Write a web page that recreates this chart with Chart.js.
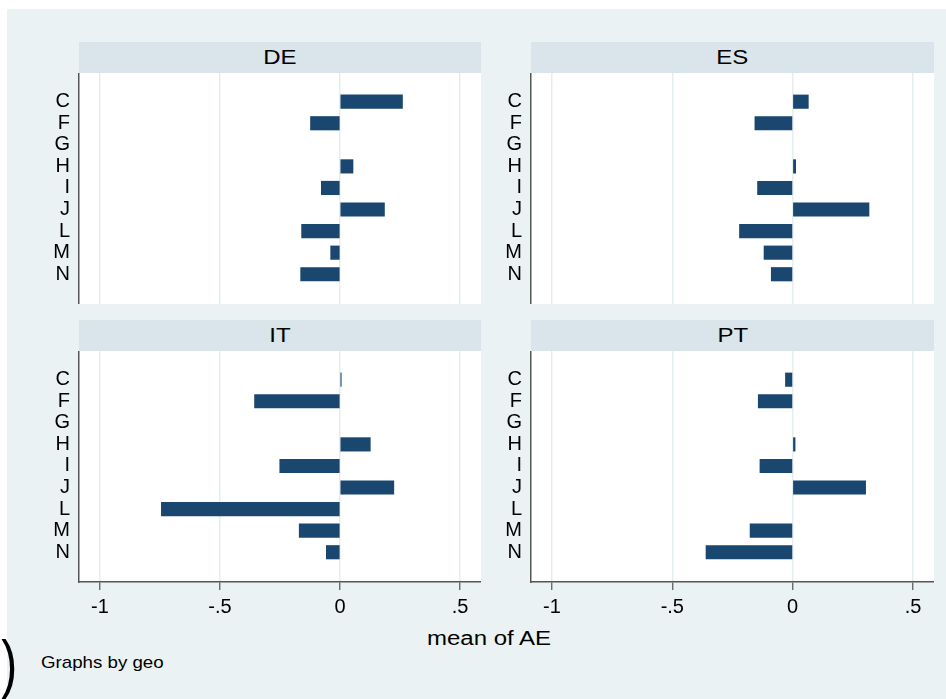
<!DOCTYPE html>
<html>
<head>
<meta charset="utf-8">
<script src="https://cdn.jsdelivr.net/npm/chart.js@4"></script>
<style>
  body { margin: 0; width: 946px; height: 699px; background: #fff; position: relative; overflow: hidden; font-family: "Liberation Sans", Arial, sans-serif; }
  #bg { position: absolute; left: 7px; top: 9px; right: 0; bottom: 0; background: #eaf2f3; }
  .strip { position: absolute; height: 31px; line-height: 31px; background: #d9e5eb; text-align: center; font-size: 20px; color: #000; }
  .strip span { display: inline-block; transform: scaleX(1.2); }
  canvas { position: absolute; }
  #xlab { position: absolute; left: 389px; top: 626px; width: 200px; text-align: center; font-size: 20px; line-height: 24px; transform: scaleX(1.2); }
  #note { position: absolute; left: 41px; top: 653px; font-size: 17px; line-height: 20px; transform: scaleX(1.1); transform-origin: left; }
  #paren { position: absolute; left: -4px; top: 632px; font-size: 64px; line-height: 64px; transform: scaleX(0.75); transform-origin: right; }
</style>
</head>
<body>
<div id="bg"></div>
<div id="paren">)</div>

<div class="strip" style="left:79px;top:42px;width:402px"><span>DE</span></div>
<div class="strip" style="left:531px;top:42px;width:403px"><span>ES</span></div>
<div class="strip" style="left:79px;top:320px;width:402px"><span>IT</span></div>
<div class="strip" style="left:531px;top:320px;width:403px"><span>PT</span></div>

<canvas id="de" width="461" height="231" style="left:20px;top:73px"></canvas>
<canvas id="es" width="462" height="231" style="left:472px;top:73px"></canvas>
<canvas id="it" width="461" height="275" style="left:20px;top:351px"></canvas>
<canvas id="pt" width="462" height="275" style="left:472px;top:351px"></canvas>

<div id="xlab">mean of AE</div>
<div id="note">Graphs by geo</div>

<script>
// sectors, top to bottom
const categories = ['C', 'F', 'G', 'H', 'I', 'J', 'L', 'M', 'N'];

// mean of AE by sector (null = no bar)
const deValues = [0.26, -0.123, null, 0.054, -0.078, 0.185, -0.16, -0.039, -0.164];
const esValues = [0.065, -0.157, null, 0.0125, -0.146, 0.317, -0.221, -0.119, -0.089];
const itValues = [0.005, -0.356, null, 0.126, -0.251, 0.224, -0.744, -0.17, -0.057];
const ptValues = [-0.03, -0.143, null, 0.01, -0.136, 0.303, null, -0.177, -0.36];

const xTicks = [-1, -0.5, 0, 0.5];
const xTickLabels = ['-1', '-.5', '0', '.5'];

Chart.defaults.font.family = '"Liberation Sans", Arial, sans-serif';
Chart.defaults.color = '#000';

// white plot region
const plotBg = {
  id: 'plotBg',
  beforeDraw(chart) {
    const a = chart.chartArea;
    chart.ctx.save();
    chart.ctx.fillStyle = '#fff';
    chart.ctx.fillRect(a.left, a.top, a.right - a.left, a.bottom - a.top);
    chart.ctx.restore();
  }
};

function makePanel(id, values, showAxis) {
  const pts = values.map((v, i) => ({ x: v, y: i })).filter(d => d.x !== null);
  new Chart(document.getElementById(id), {
    type: 'bar',
    data: {
      datasets: [{
        data: pts,
        backgroundColor: '#1a476f',
        borderWidth: 0,
        barThickness: 13.5
      }]
    },
    options: {
      indexAxis: 'y',
      responsive: false,
      animation: false,
      layout: { padding: 0 },
      plugins: { legend: { display: false }, tooltip: { enabled: false } },
      scales: {
        x: {
          type: 'linear',
          min: -1.087,
          max: 0.587,
          bounds: 'data',
          afterBuildTicks: s => { s.ticks = xTicks.map(v => ({ value: v })); },
          grid: { color: '#e4edf0', lineWidth: 1.5, tickColor: '#555', tickWidth: 1.2, tickLength: 8, drawTicks: showAxis },
          border: { display: showAxis, color: '#555', width: 1.5 },
          ticks: {
            display: showAxis,
            autoSkip: false,
            maxRotation: 0,
            padding: 5,
            font: { size: 20 },
            callback: (v, i) => xTickLabels[i]
          },
          afterFit: s => {
            s.height = showAxis ? 44 : 0;
            s.paddingLeft = 0; s.paddingRight = 0;
          }
        },
        y: {
          type: 'linear',
          reverse: true,
          offset: false,
          min: -1.33,
          max: 9.38,
          bounds: 'data',
          afterBuildTicks: s => { s.ticks = categories.map((c, i) => ({ value: i })); },
          grid: { display: false, drawTicks: false, offset: false },
          border: { display: true, color: '#555', width: 1.5 },
          ticks: {
            autoSkip: false,
            padding: 9,
            font: { size: 20 },
            callback: v => categories[v]
          },
          afterFit: s => {
            s.width = 59;
            s.paddingTop = 0; s.paddingBottom = 0;
          }
        }
      }
    },
    plugins: [plotBg]
  });
}

makePanel('de', deValues, false);
makePanel('es', esValues, false);
makePanel('it', itValues, true);
makePanel('pt', ptValues, true);
</script>
</body>
</html>
